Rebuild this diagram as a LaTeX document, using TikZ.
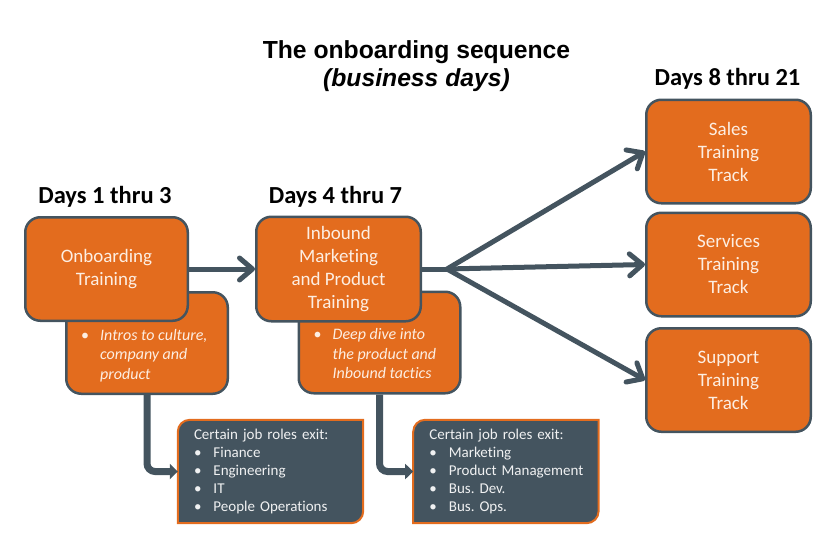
\documentclass[tikz,border=0pt]{standalone}
\usepackage{fontspec}
\setmainfont{Carlito}[Ligatures=CommonOff]
\newfontfamily\headfont{Liberation Sans}
\usepackage{tikz}
\usetikzlibrary{arrows.meta,positioning,backgrounds}
\usepackage{xcolor}
\definecolor{boxorange}{HTML}{E36C1E}
\definecolor{slate}{HTML}{44545F}
\definecolor{boxtext}{HTML}{FDEEE2}
\frenchspacing

\begin{document}
\begin{tikzpicture}[x=1pt,y=1pt,
  >={Straight Barb[length=13pt,width=22pt,line cap=round,line join=round]}]
\tikzstyle{phase}=[draw=slate,line width=2.5pt,fill=boxorange,rounded corners=15pt,text=boxtext,align=center,inner sep=0pt,font=\fontsize{19}{23}\selectfont]
\tikzstyle{track}=[phase,minimum width=164.5pt,minimum height=103.5pt]
\tikzstyle{detail}=[phase,minimum width=161.5pt,minimum height=101.5pt]
\tikzstyle{notes}=[text=boxtext,inner sep=0pt,font=\itshape\fontsize{16}{19.5}\selectfont]
\tikzstyle{exitbox}=[minimum width=185pt,minimum height=103pt,text width=153pt,inner xsep=16pt,inner ysep=0pt,align=left,text=white!92!slate,font=\fontsize{15}{18}\selectfont]
\tikzstyle{exitframe}=[fill=slate,draw=boxorange,line width=2pt]
\tikzstyle{days}=[anchor=base,font=\bfseries\fontsize{24.5}{28}\selectfont]
\tikzstyle{headline}=[anchor=base,font=\headfont\bfseries\fontsize{24.7}{28}\selectfont]
\tikzstyle{flow}=[draw=slate,line width=5pt,line join=round,->]
\tikzstyle{exitline}=[draw=slate,line width=7pt,rounded corners=8pt,-{Triangle[length=8pt,width=15pt]}]

\useasboundingbox (0,0) rectangle (840,-549);

% headings
\node[headline] (title) at (416.5,-58) {The onboarding sequence};
\node[headline] (subtitle) at (416.5,-86) {\itshape (business days)};
\node[days] (days1) at (105,-203) {Days 1 thru 3};
\node[days] (days2) at (335.5,-203) {Days 4 thru 7};
\node[days] (days3) at (727.5,-85) {Days 8 thru 21};

% detail boxes sit behind the phase boxes
\node[detail] (intro) at (147,-343) {};
\node[notes,anchor=west] (introtext) at ([xshift=16pt,yshift=-13pt]intro.west)
  {\begin{tabular}{@{}l@{\hspace{11pt}}l@{}}
   \upshape\textbullet & Intros to culture,\\ & company and\\ & product
   \end{tabular}};
\node[detail] (deep) at (379.5,-342.5) {};
\node[notes,anchor=west] (deeptext) at ([xshift=16pt,yshift=-13pt]deep.west)
  {\begin{tabular}{@{}l@{\hspace{11pt}}l@{}}
   \upshape\textbullet & Deep dive into\\ & the product and\\ & Inbound tactics
   \end{tabular}};

% phases
\node[phase,minimum width=162.5pt,minimum height=103.5pt] (onb) at (106.5,-269) {Onboarding\\Training};
\node[phase,minimum width=164.5pt,minimum height=104.5pt,right=66pt of onb] (inb) {Inbound\\Marketing\\and Product\\Training};

\node[track] (sales) at (728.5,-151.5) {Sales\\Training\\Track};
\node[track,below=7pt of sales] (serv) {Services\\Training\\Track};
\node[track,below=9.5pt of serv] (supp) {Support\\Training\\Track};

% exits
\node[exitbox] (exit1) at (270.5,-471.5)
  {\begin{tabular}{@{}l@{\hspace{12pt}}l@{}}
   \multicolumn{2}{@{}l@{}}{Certain job roles exit:}\\
   \textbullet & Finance\\ \textbullet & Engineering\\ \textbullet & IT\\ \textbullet & People Operations
   \end{tabular}};
\node[exitbox,right=50pt of exit1] (exit2)
  {\begin{tabular}{@{}l@{\hspace{12pt}}l@{}}
   \multicolumn{2}{@{}l@{}}{Certain job roles exit:}\\
   \textbullet & Marketing\\ \textbullet & Product Management\\ \textbullet & Bus. Dev.\\ \textbullet & Bus. Ops.
   \end{tabular}};
\begin{scope}[on background layer]
\draw[exitframe] (exit1.south west) -- ([yshift=-12pt]exit1.north west)
  arc[start angle=180,end angle=90,radius=12pt] -- (exit1.north east)
  -- ([yshift=12pt]exit1.south east) arc[start angle=0,end angle=-90,radius=12pt] -- cycle;
\draw[exitframe] (exit2.south west) -- ([yshift=-12pt]exit2.north west)
  arc[start angle=180,end angle=90,radius=12pt] -- (exit2.north east)
  -- ([yshift=12pt]exit2.south east) arc[start angle=0,end angle=-90,radius=12pt] -- cycle;
\end{scope}

% connectors
\coordinate[right=25pt of inb] (fork);
\draw[flow] (onb) -- (inb);
\draw[flow,-] (inb.east) -- (fork);
\draw[flow] (fork) -- (sales.west);
\draw[flow] (fork) -- (serv.west);
\draw[flow] (fork) -- (supp.west);
\draw[exitline] (intro.south) |- (exit1.west);
\draw[exitline] (deep.south) |- (exit2.west);
\end{tikzpicture}
\end{document}
